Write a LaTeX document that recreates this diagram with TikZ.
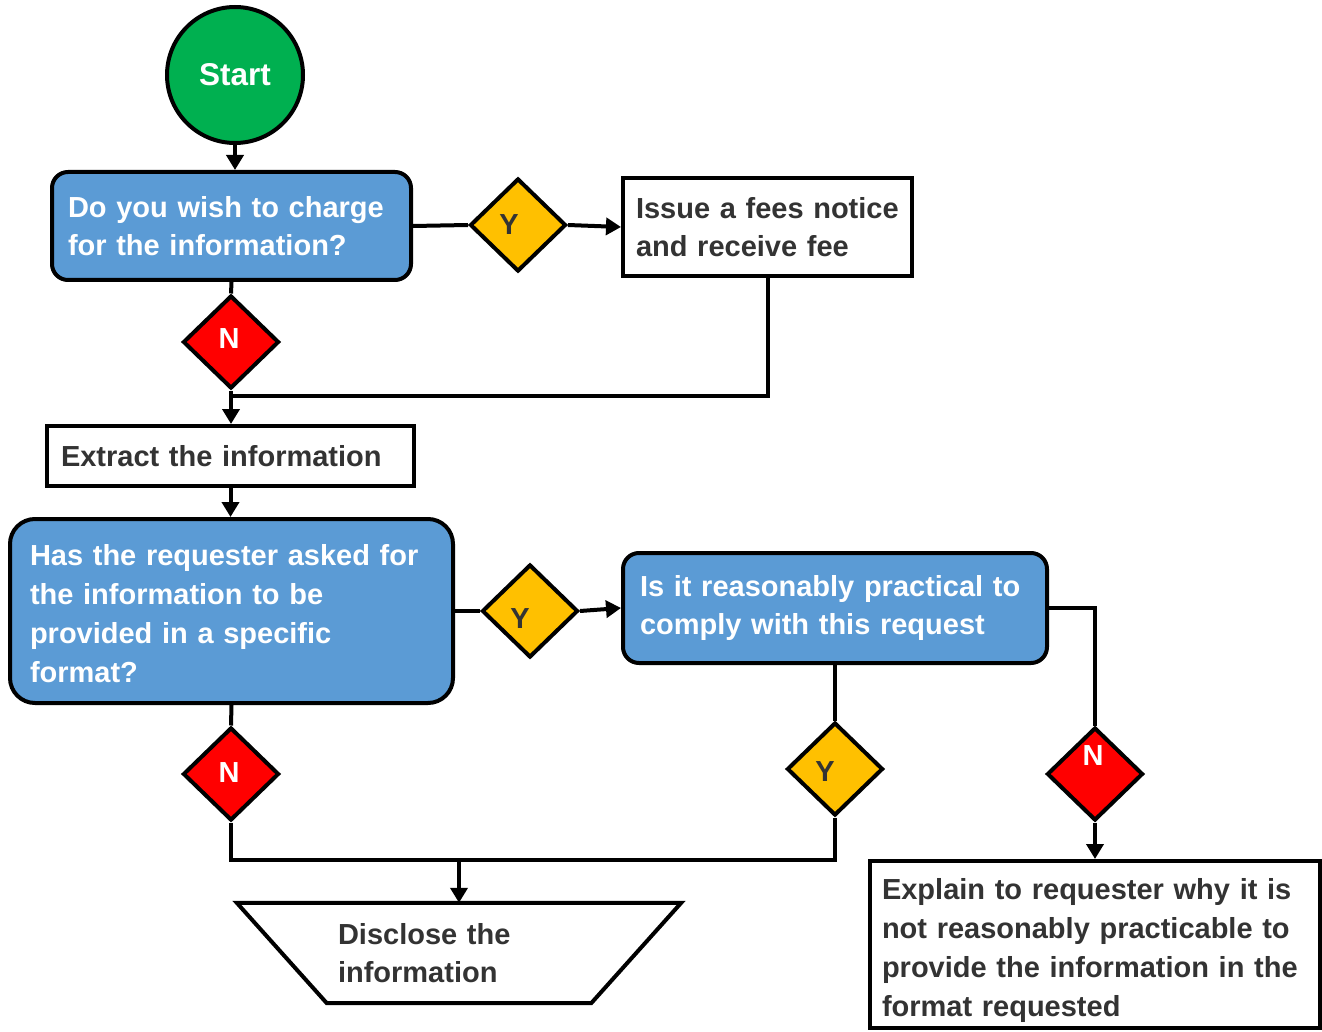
\documentclass[tikz,border=0pt]{standalone}
\usepackage{fontspec}
\setmainfont{Liberation Sans}
\usetikzlibrary{shapes.geometric,arrows.meta}
\definecolor{boxblue}{HTML}{5B9BD5}
\definecolor{dyellow}{HTML}{FFC000}
\definecolor{dred}{HTML}{FF0000}
\definecolor{sgreen}{HTML}{00B050}
\definecolor{tgray}{HTML}{333333}
\begin{document}
\begin{tikzpicture}[x=1pt,y=-1pt,
  base/.style={line width=4pt, draw=black, font=\fontsize{29}{38.5}\selectfont\bfseries, align=left, inner ysep=0pt},
  bluebox/.style={base, fill=boxblue, text=white, rounded corners=16pt},
  whitebox/.style={base, fill=white, text=tgray},
  dia/.style={diamond, line width=4pt, draw=black, minimum width=96pt, minimum height=93pt, inner sep=0pt},
  ydia/.style={dia, fill=dyellow},
  ndia/.style={dia, fill=dred},
  dlbl/.style={font=\fontsize{29}{29}\selectfont\bfseries, inner sep=0pt},
  conn/.style={line width=4pt, draw=black},
  arr/.style={conn, -{Triangle[length=15pt,width=17pt]}},
]
\useasboundingbox (0,0) rectangle (1322,1032);

\node[circle, line width=4pt, draw=black, fill=sgreen, minimum size=136pt, inner sep=0pt, text=white, font=\fontsize{31.5}{31.5}\selectfont\bfseries] (start) at (235,75) {Start};

\node[bluebox, minimum width=359pt, minimum height=108pt, text width=327pt, inner xsep=16pt] (q1) at (231.5,226) {Do you wish to charge\\for the information?};

\node[ydia, label={[dlbl,text=tgray,xshift=-9pt]center:Y}] (y1) at (518,225) {};

\node[whitebox, minimum width=289pt, minimum height=98pt, text width=263pt, inner xsep=13pt] (fee) at (767.5,227) {Issue a fees notice\\and receive fee};

\node[ndia, label={[dlbl,text=white,xshift=-2pt,yshift=3pt]center:N}] (n1) at (231,342) {};

\coordinate (j1) at (231,396);

\node[whitebox, minimum width=367pt, minimum height=60pt, text width=339pt, inner xsep=14pt] (ext) at (230.5,456) {Extract the information};

\node[bluebox, rounded corners=25pt, minimum width=443pt, minimum height=184pt, text width=403pt, inner xsep=20pt, font=\fontsize{29}{39}\selectfont\bfseries] (q2) at (231.5,611) {\rule{0pt}{27pt}Has the requester asked for\\the information to be\\provided in a specific\\format?};

\node[ydia, label={[dlbl,text=tgray,xshift=-10pt,yshift=-8pt]center:Y}] (y2) at (530,611) {};

\node[bluebox, minimum width=424pt, minimum height=110pt, text width=390pt, inner xsep=17pt] (q3) at (835,608) {Is it reasonably practical to\\comply with this request};

\node[ydia, label={[dlbl,text=tgray,xshift=-10pt,yshift=-3pt]center:Y}] (y3) at (835,769) {};

\node[ndia, label={[dlbl,text=white,xshift=-2pt,yshift=1pt]center:N}] (n2) at (231,774) {};

\node[ndia, label={[dlbl,text=white,xshift=-2pt,yshift=18pt]center:N}] (n3) at (1095,774) {};

\coordinate (j2) at (459,860);

\node[minimum width=444pt, minimum height=100pt, inner xsep=0pt, inner ysep=0pt, text width=242pt, align=left, font=\fontsize{29}{38.5}\selectfont\bfseries, text=tgray] (disc) at (459,953) {Disclose the\\information};
\draw[conn] (disc.north west) -- (disc.north east) -- ([xshift=-90pt]disc.south east) -- ([xshift=90pt]disc.south west) -- cycle;

\node[whitebox, minimum width=450pt, minimum height=167pt, text width=426pt, inner xsep=12pt, font=\fontsize{29}{38.8}\selectfont\bfseries] (exp) at (1095,944.5) {\rule{0pt}{33pt}Explain to requester why it is\\not reasonably practicable to\\provide the information in the\\format requested};

\draw[arr] (start.south) -- (start.south |- q1.north);
\draw[conn] (q1.east) -- (y1.west);
\draw[arr] (y1.east) -- (fee.west);
\draw[conn] (q1.south) -- (n1.north);
\draw[arr] (n1.south) -- (n1.south |- ext.north);
\draw[conn] (fee.south) |- (j1);
\draw[arr] (ext.south) -- (ext.south |- q2.north);
\draw[conn] (q2.east) -- (y2.west);
\draw[arr] (y2.east) -- (q3.west);
\draw[conn] (q3.south) -- (y3.north);
\draw[conn] (q2.south) -- (n2.north);
\draw[conn] (n2.south) |- (j2);
\draw[arr] (y3.south) |- (j2) -- (disc.north);
\draw[conn] (q3.east) -| (n3.north);
\draw[arr] (n3.south) -- (exp.north);
\end{tikzpicture}
\end{document}
